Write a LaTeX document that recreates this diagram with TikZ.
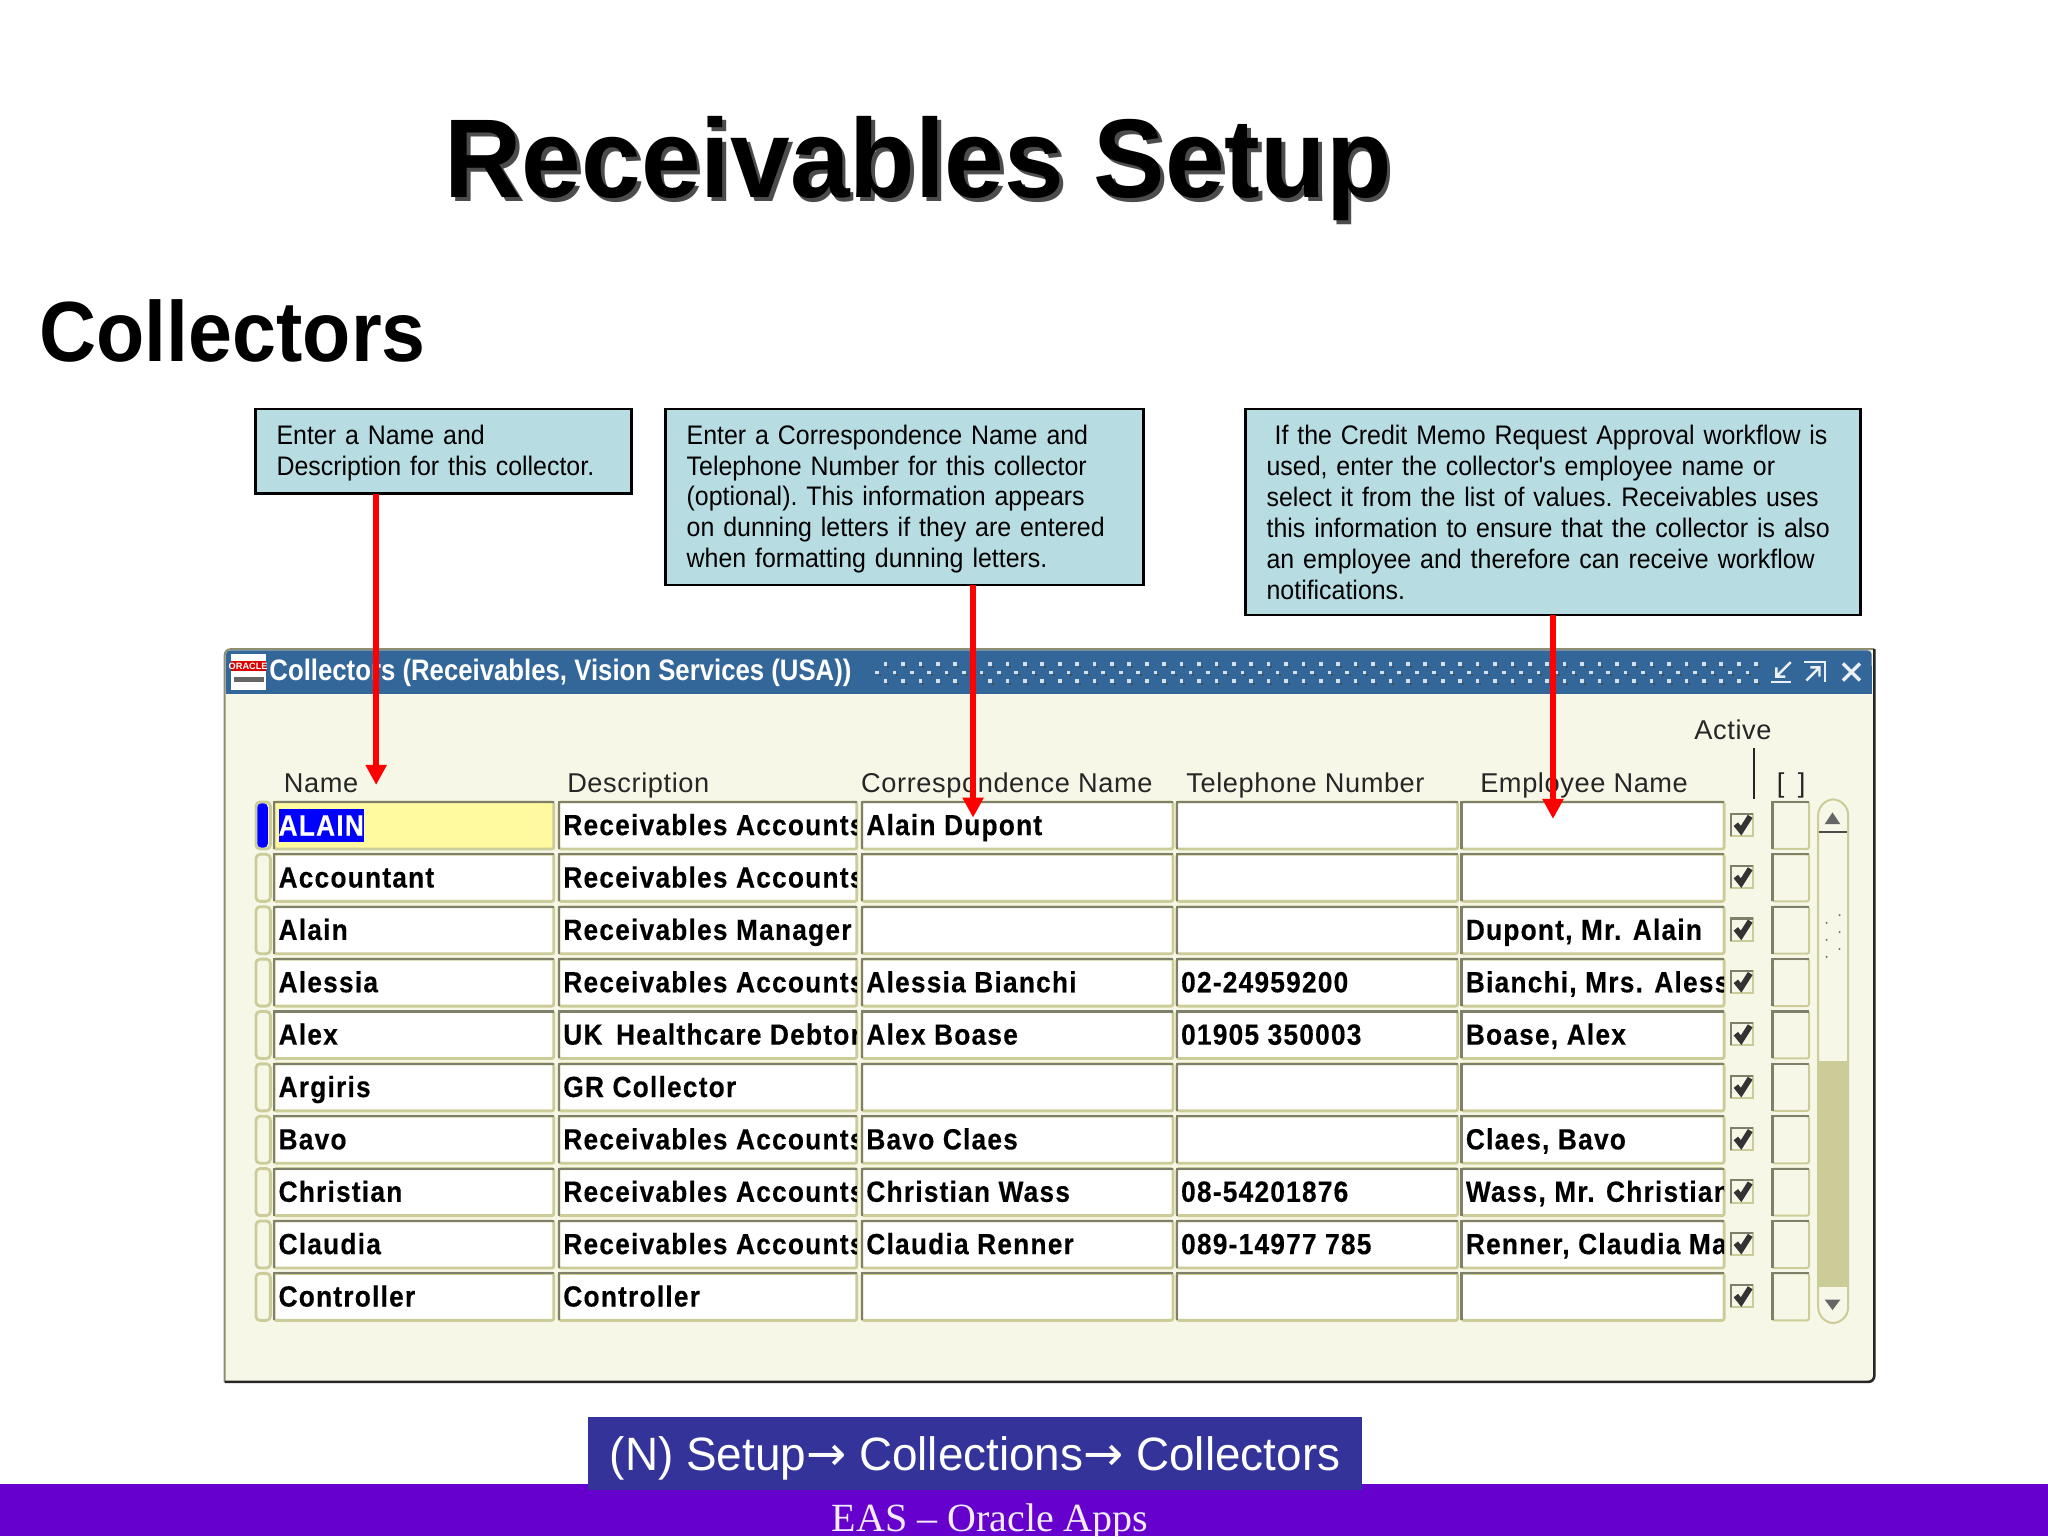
\documentclass[tikz,border=0pt]{standalone}
\usepackage{fontspec}
\setmainfont{Liberation Sans}
\newfontfamily\timesf{Liberation Serif}
\newfontfamily\arrowf{DejaVu Sans}
\newfontfamily\cellf[LetterSpace=4.2,FakeStretch=0.9,FakeBold=0.35]{Liberation Sans}
\newfontfamily\headf[LetterSpace=2.2]{Liberation Sans}
\newfontfamily\winf[FakeStretch=0.87]{Liberation Sans}
\newfontfamily\titlef[FakeStretch=0.957]{Liberation Sans}
\newfontfamily\subf[FakeStretch=0.925]{Liberation Sans}
\newfontfamily\callf[FakeStretch=0.93]{Liberation Sans}
\newfontfamily\navf[FakeStretch=0.98]{Liberation Sans}
\definecolor{calloutfill}{HTML}{B7DDE3}
\definecolor{winfill}{HTML}{F7F7E7}
\definecolor{barblue}{HTML}{336699}
\definecolor{celllight}{HTML}{CCCC99}
\definecolor{celldark}{HTML}{7F7F6A}
\definecolor{navblue}{HTML}{333399}
\definecolor{footpurple}{HTML}{6600CC}
\definecolor{selyellow}{HTML}{FFF9A0}
\usetikzlibrary{arrows.meta}
\tikzset{
  callout/.style={draw=black,line width=1.3pt,fill=calloutfill,anchor=north west,inner xsep=0pt,inner ysep=0pt,outer sep=0pt,align=left,font=\callf\frenchspacing\fontsize{13.4}{15.45}\selectfont},
  redarrow/.style={draw=red,line width=2.7pt,-{Triangle[length=10pt,width=10pt]}},
  celltext/.style={anchor=west,inner sep=0pt,font=\cellf\bfseries\fontsize{14.6}{16}\selectfont},
  headtext/.style={anchor=base west,inner sep=0pt,text=black!85,font=\headf\fontsize{13.6}{16}\selectfont},
  cellpath/.style={draw=celllight,line width=1.4pt,rounded corners=1pt},
  bevel/.style={draw=celldark,line width=1.1pt},
}
\newcommand\cellat[6][white]{%
  \path[cellpath,fill=#1] (#3,#5) rectangle (#4,#5+36);
  \draw[bevel] (#3,#5+36) -- (#3,#5) -- (#4,#5);
  \begin{scope}
    \clip (#3,#5) rectangle (#4,#5+36);
    \node[celltext] (#2) at (#3+3,#5+20.5) {\strut #6};
  \end{scope}}
\newcommand\collrow[6]{%
  \pgfmathsetmacro\ry{614+40.1*(#1-1)}
  \path[cellpath,fill=winfill,rounded corners=2pt] (196,\ry) rectangle (207,\ry+36);
  \ifnum#1=1\relax\else\cellat{name#1}{210}{424}{\ry}{#2}\fi
  \cellat{desc#1}{428}{656}{\ry}{#3}
  \cellat{corr#1}{660}{898}{\ry}{#4}
  \cellat{tel#1}{901}{1116}{\ry}{#5}
  \cellat{emp#1}{1119}{1320}{\ry}{#6}
  \path[draw=celllight,line width=1pt,fill=winfill] (1325,\ry+9) rectangle (1342,\ry+26);
  \draw[bevel] (1325,\ry+26) -- (1325,\ry+9) -- (1342,\ry+9);
  \draw[black!80,line width=2.8pt] (1329,\ry+17) -- (1333,\ry+22) -- (1340,\ry+11);
  \path[draw=celllight,line width=1pt,fill=winfill,rounded corners=1pt] (1357,\ry) rectangle (1385,\ry+36);
  \draw[bevel] (1357,\ry+36) -- (1357,\ry) -- (1385,\ry);
}
\begin{document}
\begin{tikzpicture}[x=0.653061pt,y=-0.653061pt]
\clip (0,0) rectangle (1568,1176);
\fill[white] (0,0) rectangle (1568,1176);
% titles
\node[anchor=base west,inner sep=0pt,text=black!70,font=\titlef\bfseries\fontsize{56}{60}\selectfont] (titleshadow) at (343,154.5) {Receivables Setup};
\node[anchor=base west,inner sep=0pt,font=\titlef\bfseries\fontsize{56}{60}\selectfont] (title) at (340,151.5) {Receivables Setup};
\node[anchor=base west,inner sep=0pt,font=\subf\bfseries\fontsize{42.7}{46}\selectfont] (sub) at (30,277) {Collectors};
% window
\path[fill=winfill,rounded corners=3pt] (172,497) rectangle (1435,1058);
\draw[draw=celldark!80!celllight,line width=1pt,rounded corners=3pt] (172,1058) -- (172,497) -- (1435,497);
\draw[black!85,line width=1.3pt,rounded corners=3pt] (172,1058) -- (1435,1058) -- (1435,497);
\path[fill=barblue,rounded corners=2pt] (173,498) rectangle (1433,531);
\fill[barblue] (173,510) rectangle (1433,531);
% oracle icon
\fill[white] (176.5,501) rectangle (204,528);
\fill[red!85!black] (176.5,506) rectangle (204,514);
\node[inner sep=0pt,text=white,font=\bfseries\fontsize{4.6}{5}\selectfont] (oracle) at (190,510) {ORACLE};
\fill[black!60] (179,518.5) rectangle (202,522);
\node[anchor=base west,inner sep=0pt,text=white,font=\winf\bfseries\fontsize{14.8}{16}\selectfont] (wintitle) at (206,521) {Collectors (Receivables, Vision Services (USA))};
% title bar dots
\foreach \i in {0,...,50}{
  \pgfmathsetmacro\dx{670+13.33*\i}
  \fill[white!80!barblue] (\dx+6.6,507) rectangle +(2.8,2.8);
  \fill[white!80!barblue] (\dx+6.6,520) rectangle +(2.8,2.8);
  \fill[white!80!barblue] (\dx,513.5) rectangle +(2.8,2.8);
  \fill[black!70] (\dx+9.4,509.8) rectangle +(1.4,1.4);
  \fill[black!70] (\dx+9.4,522.8) rectangle +(1.4,1.4);
  \fill[black!70] (\dx+2.8,516.3) rectangle +(1.4,1.4);
}
% window buttons
\draw[white!90!barblue,line width=1.1pt] (1356,522) -- (1371,522);
\draw[white!90!barblue,line width=1.2pt] (1371,507) -- (1360,518) (1360,511) -- (1360,518) -- (1367,518);
\draw[white!90!barblue,line width=1.1pt] (1381,507) -- (1397,507) -- (1397,522);
\draw[white!90!barblue,line width=1.2pt] (1383,521) -- (1393,511) (1386,511) -- (1393,511) -- (1393,518);
\draw[white!90!barblue,line width=1.7pt] (1411,508) -- (1424,521) (1424,508) -- (1411,521);
% headers
\node[headtext] (hname) at (217,607) {Name};
\node[headtext] (hdesc) at (434,607) {Description};
\node[headtext] (hcorr) at (659,607) {Correspondence Name};
\node[headtext] (htel) at (908,607) {Telephone Number};
\node[headtext] (hemp) at (1133,607) {Employee Name};
\node[headtext] (hact) at (1297,566) {Active};
\node[headtext] (hbr) at (1360,607) {[\,\,\,]};
\draw[black!85,line width=0.9pt] (1343,573) -- (1343,612);
% rows
\cellat[selyellow]{name1}{210}{424}{614}{}
\collrow{1}{ALAIN}{Receivables Accounts}{Alain Dupont}{}{}
\path[fill=blue,rounded corners=2pt] (197,615) rectangle (205,649);
\node[celltext,fill=blue,text=white,minimum height=16.5pt] (alain) at (213,632) {ALAIN};
\collrow{2}{Accountant}{Receivables Accounts}{}{}{}
\collrow{3}{Alain}{Receivables Manager}{}{}{Dupont, Mr. Alain}
\collrow{4}{Alessia}{Receivables Accounts}{Alessia Bianchi}{02-24959200}{Bianchi, Mrs. Alessia}
\collrow{5}{Alex}{UK\hspace{2.5pt} Healthcare Debtor}{Alex Boase}{01905 350003}{Boase, Alex}
\collrow{6}{Argiris}{GR Collector}{}{}{}
\collrow{7}{Bavo}{Receivables Accounts}{Bavo Claes}{}{Claes, Bavo}
\collrow{8}{Christian}{Receivables Accounts}{Christian Wass}{08-54201876}{Wass, Mr. Christian}
\collrow{9}{Claudia}{Receivables Accounts}{Claudia Renner}{089-14977 785}{Renner, Claudia Maria}
\collrow{10}{Controller}{Controller}{}{}{}
% scrollbar
\path[draw=celllight,line width=1pt,fill=winfill,rounded corners=8pt] (1392,612) rectangle (1415,1013);
\fill[celllight] (1392.5,812) rectangle (1414.5,985);
\draw[black!70,line width=1pt] (1393,637) -- (1414,637);
\fill[black!60] (1397,631) -- (1409,631) -- (1403,622) -- cycle;
\fill[black!60] (1397,995) -- (1409,995) -- (1403,1003) -- cycle;
\foreach \gy in {0,1,2}{
  \draw[black!55,line width=0.8pt,dotted] (1398,707+\gy*13) -- (1401,704+\gy*13) (1408,701+\gy*13) -- (1411,698+\gy*13);
}
% callouts
\node[callout,minimum width=288*0.653061pt,minimum height=65*0.653061pt,text width=288*0.653061pt] (box1) at (195.5,313) {\hspace{10.6pt}\parbox{170pt}{\vspace*{2pt}Enter a Name and\\Description for this collector.}};
\node[callout,minimum width=366*0.653061pt,minimum height=135*0.653061pt,text width=366*0.653061pt] (box2) at (509.5,313) {\hspace{10.6pt}\parbox{225pt}{\vspace*{2pt}Enter a Correspondence Name and\\Telephone Number for this collector\\(optional). This information appears\\on dunning letters if they are entered\\when formatting dunning letters.}};
\node[callout,minimum width=471*0.653061pt,minimum height=158*0.653061pt,text width=471*0.653061pt] (box3) at (953.5,313) {\hspace{10.6pt}\parbox{295pt}{\vspace*{0.5pt}\hspace*{4pt}If the Credit Memo Request Approval workflow is\\used, enter the collector's employee name or\\select it from the list of values. Receivables uses\\this information to ensure that the collector is also\\an employee and therefore can receive workflow\\notifications.}};
% arrows
\coordinate (tipa) at (288,601);
\coordinate (tipb) at (745,626);
\coordinate (tipc) at (1189,627);
\draw[redarrow] (box1.south -| tipa) -- (tipa);
\draw[redarrow] (box2.south -| tipb) -- (tipb);
\draw[redarrow] (box3.south -| tipc) -- (tipc);
% footer
\fill[footpurple] (0,1136) rectangle (1568,1176);
\node[inner sep=0pt,text=white!92!footpurple,font=\timesf\fontsize{20}{22}\selectfont] (foot) at (758,1165) {EAS – Oracle Apps};
\node[fill=navblue,inner sep=0pt,minimum width=593*0.653061pt,minimum height=56*0.653061pt,text=white,font=\navf\fontsize{23.4}{26}\selectfont] (nav) at (746.5,1113) {\raisebox{0pt}[17pt][0pt]{(N) Setup{\arrowf\fontsize{24}{26}\selectfont→}\hspace{0pt} Collections{\arrowf\fontsize{24}{26}\selectfont→}\hspace{0pt} Collectors}};
\end{tikzpicture}
\end{document}
